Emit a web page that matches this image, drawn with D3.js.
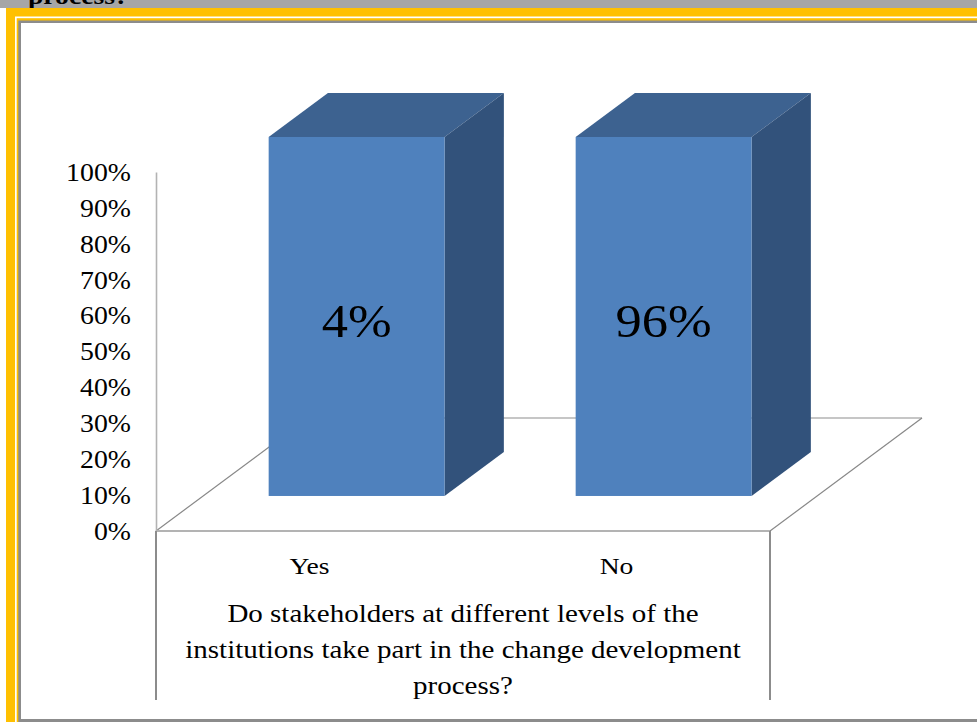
<!DOCTYPE html>
<html>
<head>
<meta charset="utf-8">
<script src="https://cdn.jsdelivr.net/npm/d3@7"></script>
<style>
  body { margin: 0; background: #fff; }
  svg text { font-family: "Liberation Serif", "Times New Roman", serif; fill: #000; }
</style>
</head>
<body>
<svg id="chart" width="977" height="722"></svg>
<script>
// ---- data ----
const categories = ["Yes", "No"];
const plottedValues = [1, 1];          // both columns are drawn full height in the picture
const dataLabels = ["4%", "96%"];
const yTicks = [0, 0.1, 0.2, 0.3, 0.4, 0.5, 0.6, 0.7, 0.8, 0.9, 1];
const axisTitle = [
  "Do stakeholders at different levels of the",
  "institutions take part in the change development",
  "process?"
];

const svg = d3.select("#chart");
const W = 977, H = 722;

// the original glyphs are a bit wider than Times, so stretch text horizontally
const stretched = (sel, x, y, sx) =>
  sel.attr("x", 0).attr("y", 0).attr("transform", `translate(${x},${y}) scale(${sx},1)`);

// ---- page frame (orange border, grey strip) ----
svg.append("rect").attr("width", W).attr("height", H).attr("fill", "#fff");
svg.append("rect").attr("width", W).attr("height", 8).attr("fill", "#a6a6a6");

svg.append("clipPath").attr("id", "stripClip")
  .append("rect").attr("width", W).attr("height", 8);
svg.append("g")
  .attr("clip-path", "url(#stripClip)")
  .append("text")
    .style("font-size", "24px").style("font-weight", 700)
    .text("process?")
    .call(s => stretched(s, 28, 4, 1.15));

svg.append("rect").attr("x", 6).attr("y", 8).attr("width", W - 6).attr("height", H - 8).attr("fill", "#ffc000");
svg.append("rect").attr("x", 15).attr("y", 16.5).attr("width", W - 15).attr("height", H - 16.5).attr("fill", "#fff");
svg.append("rect").attr("x", 16.7).attr("y", 18.2).attr("width", W - 16.7).attr("height", H - 18.2).attr("fill", "#ffc000");
svg.append("rect").attr("x", 18.3).attr("y", 20.5).attr("width", W - 18.3).attr("height", H - 20.5).attr("fill", "#8c8c8c");
svg.append("rect").attr("x", 21).attr("y", 23).attr("width", W - 21).attr("height", 696).attr("fill", "#fff");

// ---- scales ----
const xLeft = 156, xRight = 770;
const yScale = d3.scaleLinear().domain([0, 1]).range([531, 172]);
const xScale = d3.scaleBand()
  .domain(categories)
  .range([xLeft, xRight])
  .paddingInner(0.427)
  .paddingOuter(0.2135);

// 3D depth: floor depth vector, bars sit between depth fractions
const depthX = 152, depthY = -113;
const barFront = 0.31, barBack = 0.70;
const proj = (x, y, f) => [x + f * depthX, y + f * depthY];

const chart = svg.append("g");

// ---- floor ----
const y0 = yScale(0);
const floor = chart.append("g").attr("fill", "none");
floor.append("line")
  .attr("x1", proj(xLeft, y0, 1)[0]).attr("y1", proj(xLeft, y0, 1)[1])
  .attr("x2", proj(xRight, y0, 1)[0]).attr("y2", proj(xRight, y0, 1)[1])
  .attr("stroke", "#b3b3b3").attr("stroke-width", 1.6);
[xLeft, xRight].forEach(x => {
  floor.append("line")
    .attr("x1", x).attr("y1", y0)
    .attr("x2", proj(x, y0, 1)[0]).attr("y2", proj(x, y0, 1)[1])
    .attr("stroke", "#888").attr("stroke-width", 1.2);
});
floor.append("line")
  .attr("x1", xLeft).attr("y1", y0).attr("x2", xRight).attr("y2", y0)
  .attr("stroke", "#b3b3b3").attr("stroke-width", 2);

// ---- 3D bars ----
const bars = categories.map((c, i) => ({ cat: c, value: plottedValues[i], label: dataLabels[i] }));
const bw = xScale.bandwidth();

const barG = chart.selectAll(".bar")
  .data(bars)
  .join("g")
    .attr("class", "bar");

const pts = arr => arr.map(p => p.join(",")).join(" ");

// top face
barG.append("polygon")
  .attr("fill", "#3d6290")
  .attr("points", d => {
    const xl = xScale(d.cat), xr = xl + bw, yt = yScale(d.value);
    return pts([proj(xl, yt, barFront), proj(xr, yt, barFront), proj(xr, yt, barBack), proj(xl, yt, barBack)]);
  });

// side face
barG.append("polygon")
  .attr("fill", "#32527b")
  .attr("points", d => {
    const xr = xScale(d.cat) + bw, yt = yScale(d.value);
    return pts([proj(xr, yt, barFront), proj(xr, yt, barBack), proj(xr, y0, barBack), proj(xr, y0, barFront)]);
  });

// front face
barG.append("rect")
  .attr("fill", "#4f81bd")
  .attr("x", d => proj(xScale(d.cat), 0, barFront)[0])
  .attr("y", d => proj(0, yScale(d.value), barFront)[1])
  .attr("width", bw)
  .attr("height", d => y0 - yScale(d.value));

// data labels
barG.append("text")
  .attr("text-anchor", "middle")
  .style("font-size", "46px")
  .text(d => d.label)
  .each(function(d) {
    stretched(d3.select(this), proj(xScale(d.cat) + bw / 2, 0, barFront)[0], 337, 1.14);
  });

// ---- value axis ----
const yAxis = chart.append("g")
  .attr("transform", `translate(${xLeft},0)`)
  .call(d3.axisLeft(yScale)
    .tickValues(yTicks)
    .tickFormat(d3.format(".0%"))
    .tickSize(0)
    .tickPadding(23.4));
yAxis.select(".domain").attr("stroke", "#b3b3b3").attr("stroke-width", 1.6);
yAxis.selectAll("text")
  .style("font-size", "26px")
  .attr("fill", "#000")
  .attr("transform", "scale(1.07,1)");

// ---- category box and labels ----
[xLeft, xRight].forEach(x => {
  chart.append("line")
    .attr("x1", x).attr("y1", y0).attr("x2", x).attr("y2", 700)
    .attr("stroke", "#8c8c8c").attr("stroke-width", 2);
});

chart.selectAll(".cat-label")
  .data(categories)
  .join("text")
    .attr("class", "cat-label")
    .attr("text-anchor", "middle")
    .style("font-size", "24px")
    .text(d => d)
    .each(function(d) {
      stretched(d3.select(this), xScale(d) + bw / 2, 574, 1.15);
    });

chart.selectAll(".axis-title")
  .data(axisTitle)
  .join("text")
    .attr("class", "axis-title")
    .attr("text-anchor", "middle")
    .style("font-size", "25px")
    .text(d => d)
    .each(function(d, i) {
      stretched(d3.select(this), (xLeft + xRight) / 2, 622 + i * 36, 1.16);
    });
</script>
</body>
</html>
